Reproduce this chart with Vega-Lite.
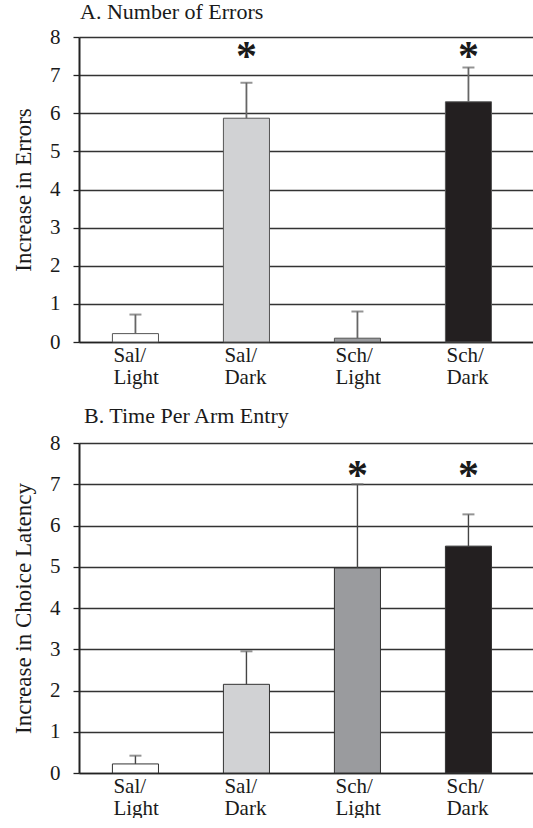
{
  "$schema": "https://vega.github.io/schema/vega-lite/v6.json",
  "padding": {"left": 12, "top": 1, "right": 0, "bottom": 0},
  "background": "white",
  "datasets": {
    "a": [
      {"group": "Sal/ Light", "value": 0.22, "upper": 0.72, "sig": ""},
      {"group": "Sal/ Dark", "value": 5.87, "upper": 6.8, "sig": "*"},
      {"group": "Sch/ Light", "value": 0.1, "upper": 0.8, "sig": ""},
      {"group": "Sch/ Dark", "value": 6.3, "upper": 7.2, "sig": "*"}
    ],
    "b": [
      {"group": "Sal/ Light", "value": 0.22, "upper": 0.42, "sig": ""},
      {"group": "Sal/ Dark", "value": 2.15, "upper": 2.95, "sig": ""},
      {"group": "Sch/ Light", "value": 4.97, "upper": 7.0, "sig": "*"},
      {"group": "Sch/ Dark", "value": 5.5, "upper": 6.27, "sig": "*"}
    ]
  },
  "config": {
    "font": "Liberation Serif",
    "view": {"stroke": null},
    "concat": {"spacing": 18},
    "title": {"font": "Liberation Serif", "fontSize": 22, "fontWeight": "normal", "color": "#1a1a1a", "anchor": "start", "frame": "group"},
    "axis": {"labelFont": "Liberation Serif", "titleFont": "Liberation Serif", "labelColor": "#1a1a1a", "titleColor": "#1a1a1a"},
    "axisY": {"tickCount": 8, "labelOverlap": false, "grid": true, "gridColor": "#333", "gridWidth": 1.3,
              "domainColor": "#222", "domainWidth": 2, "tickColor": "#222", "tickSize": 6, "tickWidth": 1.3,
              "labelFontSize": 21, "labelPadding": 13, "titleFontSize": 23, "titleFontWeight": "normal", "titlePadding": 14},
    "axisX": {"labelAngle": 0, "ticks": false, "domain": true, "domainColor": "#222", "domainWidth": 1.5,
              "labelAlign": "left", "labelOffset": -22, "labelFontSize": 21, "labelLineHeight": 22, "labelPadding": 2}
  },
  "vconcat": [
    {
      "width": 455,
      "height": 305,
      "title": {"text": "A. Number of Errors", "offset": 2, "dx": 1},
      "data": {"name": "a"},
      "encoding": {
        "x": {
          "field": "group", "type": "nominal", "sort": null,
          "scale": {"paddingInner": 0.585, "paddingOuter": 0.342, "align": 0.44},
          "axis": {"title": null, "labelExpr": "split(datum.label, ' ')"}
        }
      },
      "layer": [
        {
          "mark": {"type": "bar", "stroke": "#555", "strokeWidth": 1},
          "encoding": {
            "y": {"field": "value", "type": "quantitative", "scale": {"domain": [0, 8], "nice": false},
                  "axis": {"title": "Increase in Errors"}},
            "color": {"field": "group", "type": "nominal", "legend": null,
                      "scale": {"domain": ["Sal/ Light", "Sal/ Dark", "Sch/ Light", "Sch/ Dark"], "range": ["#ffffff", "#d1d2d4", "#9a9b9e", "#231f20"]}}
          }
        },
        {
          "mark": {"type": "rule", "color": "#666", "strokeWidth": 1.8},
          "encoding": {"y": {"field": "value", "type": "quantitative"}, "y2": {"field": "upper"}}
        },
        {
          "mark": {"type": "tick", "color": "#666", "size": 12, "thickness": 2},
          "encoding": {"y": {"field": "upper", "type": "quantitative"}}
        },
        {
          "transform": [{"filter": "datum.sig != ''"}],
          "mark": {"type": "text", "fontSize": 42, "fontWeight": "bold", "color": "#1a1a1a", "baseline": "middle", "dy": 7},
          "encoding": {"y": {"datum": 7.65}, "text": {"field": "sig"}}
        }
      ]
    },
    {
      "width": 455,
      "height": 330,
      "title": {"text": "B. Time Per Arm Entry", "offset": 4, "dx": 5},
      "data": {"name": "b"},
      "encoding": {
        "x": {
          "field": "group", "type": "nominal", "sort": null,
          "scale": {"paddingInner": 0.585, "paddingOuter": 0.342, "align": 0.44},
          "axis": {"title": null, "labelExpr": "split(datum.label, ' ')"}
        }
      },
      "layer": [
        {
          "mark": {"type": "bar", "stroke": "#333", "strokeWidth": 1},
          "encoding": {
            "y": {"field": "value", "type": "quantitative", "scale": {"domain": [0, 8], "nice": false},
                  "axis": {"title": "Increase in Choice Latency"}},
            "color": {"field": "group", "type": "nominal", "legend": null,
                      "scale": {"domain": ["Sal/ Light", "Sal/ Dark", "Sch/ Light", "Sch/ Dark"], "range": ["#ffffff", "#d1d2d4", "#a2a3a6", "#231f20"]}}
          }
        },
        {
          "mark": {"type": "rule", "color": "#444", "strokeWidth": 1.4},
          "encoding": {"y": {"field": "value", "type": "quantitative"}, "y2": {"field": "upper"}}
        },
        {
          "mark": {"type": "tick", "color": "#666", "size": 12, "thickness": 2},
          "encoding": {"y": {"field": "upper", "type": "quantitative"}}
        },
        {
          "transform": [{"filter": "datum.sig != ''"}],
          "mark": {"type": "text", "fontSize": 42, "fontWeight": "bold", "color": "#1a1a1a", "baseline": "middle", "dy": 6},
          "encoding": {"y": {"datum": 7.35}, "text": {"field": "sig"}}
        }
      ]
    }
  ]
}
